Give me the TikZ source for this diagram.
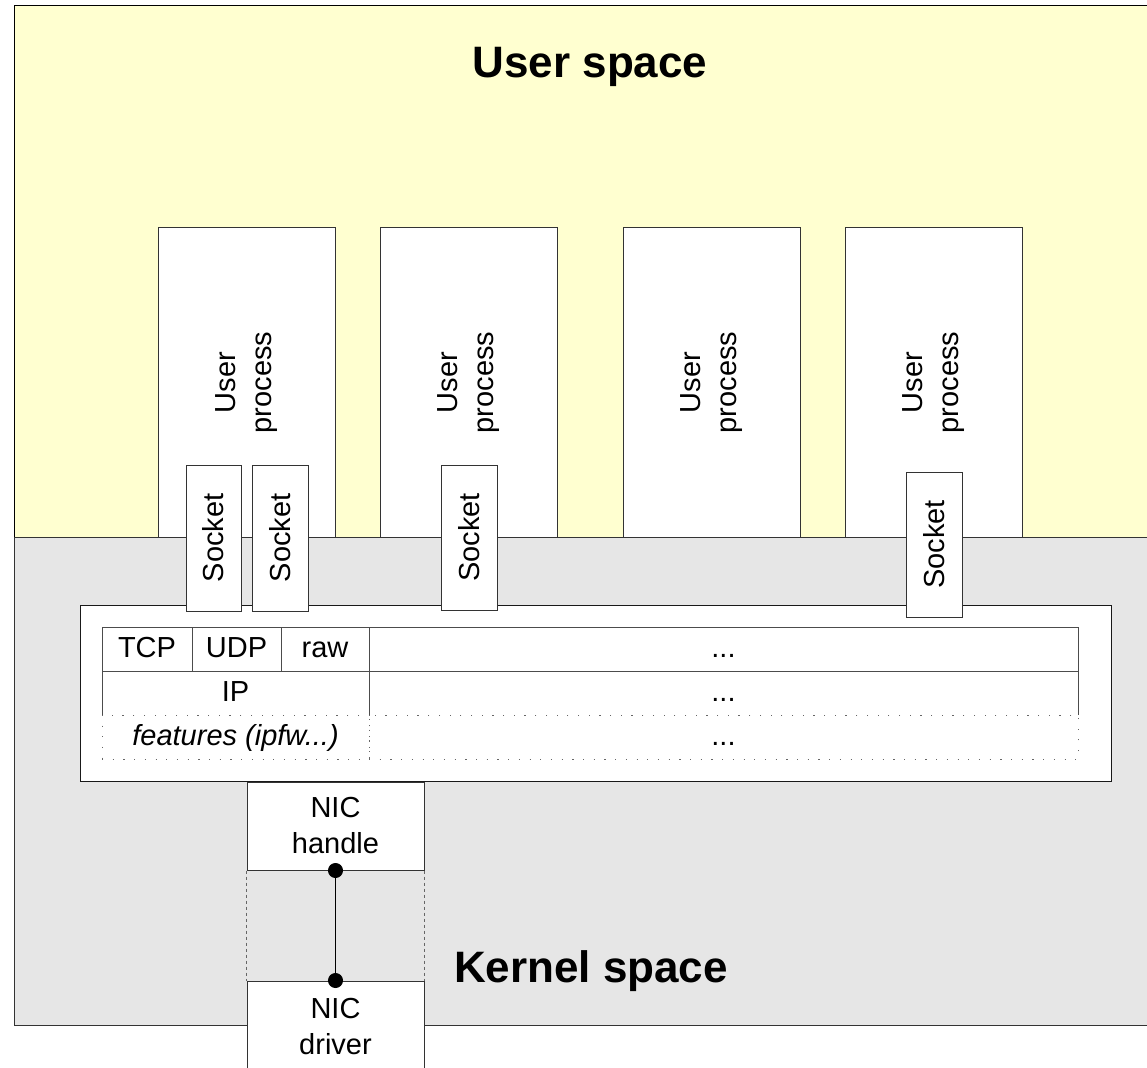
\documentclass[tikz,border=0pt]{standalone}
\usepackage{fontspec}
\setmainfont{Liberation Sans}
\usetikzlibrary{arrows.meta, positioning}
\definecolor{userbg}{RGB}{255,255,208}
\definecolor{kernbg}{RGB}{230,230,230}

\begin{document}
\begin{tikzpicture}[x=1pt, y=-1pt, font=\fontsize{29}{36}\selectfont]
	\tikzstyle{box}=[draw=black!80, fill=white, line width=1pt, inner sep=0pt, align=center]
	\tikzstyle{vbox}=[box, rotate=90]
	\tikzstyle{cell}=[draw=black!70, line width=1pt, inner sep=0pt, outer sep=0pt, minimum height=44pt, text height=22pt, text depth=5pt, anchor=north west]
	\tikzstyle{dotcell}=[cell, draw=black!60, dash pattern=on 1.2pt off 9.5pt]
	\tikzstyle{title}=[font=\fontsize{44}{52}\selectfont\bfseries, anchor=base]
	\useasboundingbox (0,0) rectangle (1147,1067);
	% the two spaces
	\filldraw[fill=userbg, draw=black, line width=1pt] (14,6) rectangle (1152,537);
	\filldraw[fill=kernbg, draw=black!80, line width=1pt] (14,537) rectangle (1152,1025);
	\node[title] (user) at (590,78) {User space};
	\node[title] (kernel) at (591,982) {Kernel space};
	% user processes
	\node[vbox, minimum width=309pt, minimum height=177pt] (up1) at (246.5,382.5) {User\\process};
	\node[vbox, minimum width=309pt, minimum height=177pt] (up2) at (468.5,382.5) {User\\process};
	\node[vbox, minimum width=309pt, minimum height=177pt] (up3) at (711.5,382.5) {User\\process};
	\node[vbox, minimum width=309pt, minimum height=177pt] (up4) at (933.5,382.5) {User\\process};
	% protocol stack
	\node[box, draw=black!90, minimum width=1031pt, minimum height=176pt, anchor=north west] (stack) at (80,605) {};
	\node[cell, minimum width=90pt] (tcp) at (102,627) {TCP};
	\node[cell, minimum width=89pt] (udp) at (tcp.north east) {UDP};
	\node[cell, minimum width=88pt] (raw) at (udp.north east) {raw};
	\node[cell, minimum width=709pt] (tdots) at (raw.north east) {...};
	\node[cell, draw=none, minimum width=267pt] (ip) at (tcp.south west) {IP};
	\node[cell, draw=none, minimum width=709pt] (ipdots) at (ip.north east) {...};
	\draw[black!70, line width=1pt] (ip.north west) -- (ip.south west)
		(ip.north east) -- (ip.south east)
		(ipdots.north east) -- (ipdots.south east);
	\node[dotcell, minimum width=267pt] (feat) at (ip.south west) {\itshape features (ipfw...)};
	\node[dotcell, minimum width=709pt] (featdots) at (feat.north east) {...};
	% sockets
	\node[vbox, minimum width=146pt, minimum height=55pt] (s1) at (213.5,538) {Socket};
	\node[vbox, minimum width=146pt, minimum height=56pt] (s2) at (280,538) {Socket};
	\node[vbox, minimum width=145pt, minimum height=56pt] (s3) at (469,537.5) {Socket};
	\node[vbox, minimum width=145pt, minimum height=56pt] (s4) at (934,544.5) {Socket};
	% network card
	\node[box, minimum width=177pt, minimum height=88pt] (handle) at (335.5,826) {NIC\\handle};
	\node[box, minimum width=177pt, minimum height=92pt] (driver) at (335.5,1027) {NIC\\driver};
	\draw[black!60, dash pattern=on 3pt off 3pt] (handle.south west) -- (driver.north west);
	\draw[black!60, dash pattern=on 3pt off 3pt] (handle.south east) -- (driver.north east);
	\draw[line width=1pt, {Circle[length=15pt]}-{Circle[length=15pt]}, shorten <=-7.5pt, shorten >=-7.5pt] (handle.south) -- (driver.north);
\end{tikzpicture}
\end{document}
